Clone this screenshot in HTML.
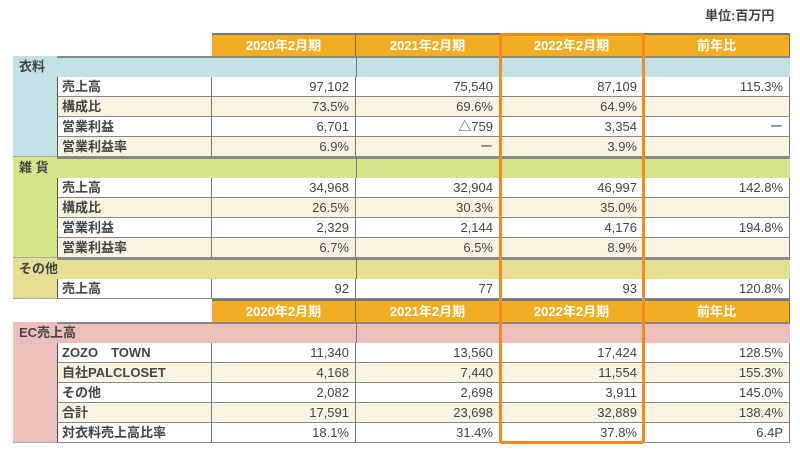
<!DOCTYPE html>
<html><head><meta charset="utf-8"><style>
body{margin:0;width:800px;height:450px;background:#fff;position:relative;overflow:hidden;font-family:"Liberation Sans","Noto Sans CJK JP",sans-serif;color:#444;}
div.c{position:absolute;box-sizing:border-box;font-size:13px;line-height:20px;white-space:nowrap;}
.hd{background:#f2ae22;color:#fff;font-weight:bold;text-align:center;border-right:1px solid #8a6a30;border-top:2px solid #777;}
.num{text-align:right;padding-right:6px;border-right:1px solid #777;border-bottom:1px solid #888;}
.sm{font-size:12px;}
.lbl{padding-left:4px;border-bottom:1px solid #888;border-right:1px solid #777;font-weight:bold;}
</style></head><body>
<div class="c" style="left:705px;top:6px;font-weight:bold;">単位:百万円</div>
<div id="root"></div>
<script>
const cols=["2020年2月期","2021年2月期","2022年2月期","前年比"];
const colX=[212,356,500,644,790];
const groups=[
 {name:"衣料",color:"#c1e1e5",top:56,rows:[
  ["売上高","97,102","75,540","87,109","115.3%"],
  ["構成比","73.5%","69.6%","64.9%",""],
  ["営業利益","6,701","△759","3,354","ー"],
  ["営業利益率","6.9%","ー","3.9%",""]]},
 {name:"雑 貨",color:"#d4e58a",top:157,rows:[
  ["売上高","34,968","32,904","46,997","142.8%"],
  ["構成比","26.5%","30.3%","35.0%",""],
  ["営業利益","2,329","2,144","4,176","194.8%"],
  ["営業利益率","6.7%","6.5%","8.9%",""]]},
 {name:"その他",color:"#e5df94",top:258,rows:[
  ["売上高","92","77","93","120.8%"]]},
 {name:"EC売上高",color:"#ecbfbd",top:322,rows:[
  ["ZOZO　TOWN","11,340","13,560","17,424","128.5%"],
  ["自社PALCLOSET","4,168","7,440","11,554","155.3%"],
  ["その他","2,082","2,698","3,911","145.0%"],
  ["合計","17,591","23,698","32,889","138.4%"],
  ["対衣料売上高比率","18.1%","31.4%","37.8%","6.4P"]]}
];
const headerTops=[33,299];
const root=document.getElementById('root');
function mk(cls,l,t,w,h,txt,st){const d=document.createElement('div');d.className='c '+cls;d.style.left=l+'px';d.style.top=t+'px';d.style.width=w+'px';d.style.height=h+'px';if(txt!==undefined)d.textContent=txt;if(st)d.style.cssText+=st;root.appendChild(d);return d;}
headerTops.forEach((ht,hi)=>{cols.forEach((c,i)=>{
 const d=mk('hd',colX[i],ht,colX[i+1]-colX[i],23,c,'line-height:21px;');
 
 
});});
groups.forEach((g,gi)=>{
 const gh=21, rh=20, n=g.rows.length;
 const band=mk('',13,g.top,777,gh,'',`background:${g.color};border-top:2px solid #888;`);
 
 
 const side=mk('',13,g.top,44,gh+n*rh,'',`background:${g.color};border-bottom:1px solid #aaa;`);
 
 
 const gl=mk('',19,g.top+1,180,20,g.name,'font-weight:bold;');
 
 
 for(let i=1;i<4;i++){const s=mk('',colX[i],g.top,1,gh,'','background:#777;');}
 g.rows.forEach((r,ri)=>{
  const t=g.top+gh+ri*rh;
  const bg=(ri%2==1)?'#faf3e2':'#fff';
  const lb=mk('lbl',57,t,155,rh,r[0],`background:${bg};border-left:1px solid #555;`);
  
  
  for(let i=0;i<4;i++){
   const small=(r[0].indexOf('比')>=0&&r[0]!=='対衣料売上高比率')||r[0]==='営業利益率';
   const v=mk('num'+(small?' sm':''),colX[i],t,colX[i+1]-colX[i],rh,r[i+1],`background:${bg};`);
   
   
  }
 });
});
const fr=mk('',499,33,146,411,'','border:3px solid #f28a1e;border-radius:3px;');


</script>
</body></html>
